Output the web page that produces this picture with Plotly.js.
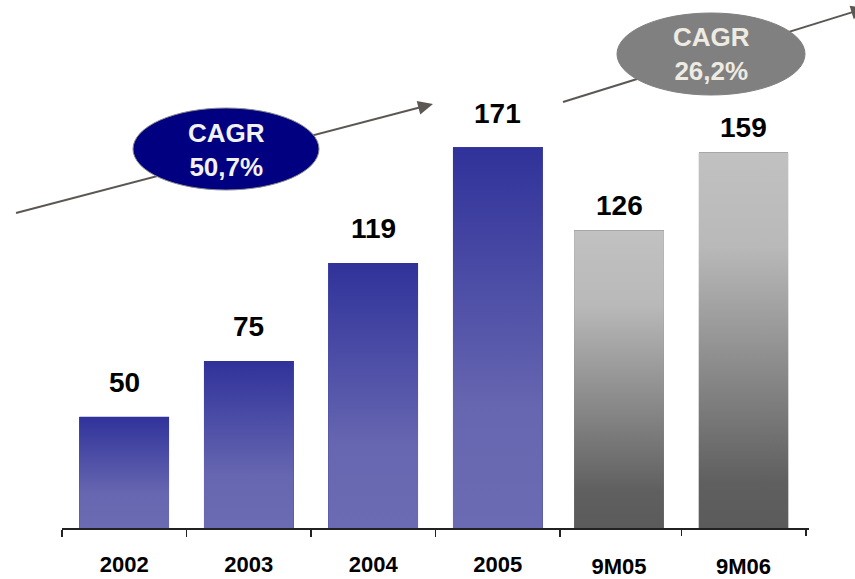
<!DOCTYPE html>
<html>
<head>
<meta charset="utf-8">
<script src="https://cdn.plot.ly/plotly-3.0.1.min.js"></script>
<style>html,body{margin:0;padding:0;background:#fff;}#chart{width:855px;height:579px;}</style>
</head>
<body>
<div id="chart"></div>
<script>
// ---- data ----
const annualCategories = ['2002', '2003', '2004', '2005'];
const annualValues = [50, 75, 119, 171];
const annualLabels = ['50', '75', '119', '171'];
const interimCategories = ['9M05', '9M06'];
const interimValues = [126, 159];
const interimLabels = ['126', '159'];
const cagrLabels = ['CAGR<br>50,7%', 'CAGR<br>26,2%'];

// ---- geometry / style ----
const W = 855, H = 579;
const M = {l: 62, r: 46, t: 0, b: 51};
const plotW = W - M.l - M.r, plotH = H - M.t - M.b;
const halfW = 0.36;
const FONT = 'Liberation Sans, Arial, sans-serif';
const nCat = annualCategories.length + interimCategories.length;

const blueScale = [[0, '#6b6bb3'], [0.3, '#6767b1'], [1, '#30329a']];
const greyScale = [[0, '#5b5b5b'], [0.12, '#5f5f5f'], [0.75, '#b9b9b9'], [1, '#c1c1c1']];

function P(px, py) { return [(px - M.l) / plotW, (H - M.b - py) / plotH]; }

const traces = [];
const annotations = [];

function addGroup(cats, vals, labels, offset, xa, ya, scale, solid, shift) {
  const xs = cats.map((c, i) => offset + i);
  traces.push({
    type: 'bar', x: xs, y: vals, width: 2 * halfW, xaxis: xa, yaxis: ya,
    marker: {color: solid, line: {width: 0}}, hoverinfo: 'skip', showlegend: false
  });
  vals.forEach((v, i) => {
    const x = xs[i];
    traces.push({
      type: 'scatter', mode: 'none', xaxis: xa, yaxis: ya,
      x: [x - halfW, x + halfW, x + halfW, x - halfW, x - halfW],
      y: [0, 0, v, v, 0],
      fill: 'toself',
      fillgradient: {type: 'vertical', colorscale: scale},
      hoverinfo: 'skip', showlegend: false
    });
    annotations.push({
      x: x, y: v, xref: xa, yref: ya, text: labels[i], showarrow: false,
      yanchor: 'middle', yshift: shift,
      font: {family: FONT, size: 28, color: '#000', weight: 'bold'}
    });
  });
}
addGroup(annualCategories, annualValues, annualLabels, 0, 'x', 'y', blueScale, '#4c4ea6', 34);
addGroup(interimCategories, interimValues, interimLabels, annualCategories.length, 'x2', 'y2', greyScale, '#8c8c8c', 25);

function ellipseText(cx, cy, txt, color) {
  const p = P(cx, cy);
  return {x: p[0], y: p[1], xref: 'paper', yref: 'paper', text: txt, showarrow: false,
    xanchor: 'center', yanchor: 'middle',
    font: {family: FONT, size: 26, color: color, weight: 'bold'}};
}
annotations.push(ellipseText(226, 150, '<b>' + cagrLabels[0] + '</b>', '#f2f2f2'));
annotations.push(ellipseText(711, 54, '<b>' + cagrLabels[1] + '</b>', '#eeebe2'));

function lineShape(x0, y0, x1, y1) {
  const a = P(x0, y0), b = P(x1, y1);
  return {type: 'line', xref: 'paper', yref: 'paper', x0: a[0], y0: a[1], x1: b[0], y1: b[1],
    line: {color: '#5c5752', width: 2}, layer: 'above'};
}
function headShape(sx, sy, tx, ty, len, hw) {
  const dx = tx - sx, dy = ty - sy, L = Math.hypot(dx, dy);
  const ux = dx / L, uy = dy / L, bx = tx - len * ux, by = ty - len * uy;
  const pts = [[tx, ty], [bx - hw * uy, by + hw * ux], [bx + hw * uy, by - hw * ux]].map(q => P(q[0], q[1]));
  return {type: 'path', xref: 'paper', yref: 'paper',
    path: 'M' + pts.map(q => q[0] + ',' + q[1]).join(' L') + ' Z',
    fillcolor: '#5c5752', line: {width: 0}, layer: 'above'};
}
function ellipse(cx, cy, rx, ry, fill, border) {
  const a = P(cx - rx, cy + ry), b = P(cx + rx, cy - ry);
  return {type: 'circle', xref: 'paper', yref: 'paper', x0: a[0], y0: a[1], x1: b[0], y1: b[1],
    fillcolor: fill, line: {color: border, width: 1}, layer: 'above'};
}
function arrow(sx, sy, tx, ty) {
  const dx = tx - sx, dy = ty - sy, L = Math.hypot(dx, dy);
  const bx = tx - 14 * dx / L, by = ty - 14 * dy / L;
  return [lineShape(sx, sy, bx, by), headShape(sx, sy, tx, ty, 15, 7)];
}
const shapes = [
  ...arrow(16, 213, 433, 104),
  ...arrow(563, 102, 866, 8),
  ellipse(226, 149, 93, 41, '#000080', '#8a8a8a'),
  ellipse(711, 54, 94, 41, '#808080', '#808080')
];

const tickFont = {family: FONT, size: 22, color: '#000', weight: 'bold'};
const annualIdx = annualCategories.map((c, i) => i);
const interimIdx = interimCategories.map((c, i) => annualCategories.length + i);

const layout = {
  width: W, height: H, margin: M,
  paper_bgcolor: '#fff', plot_bgcolor: '#fff',
  showlegend: false, bargap: 0, barmode: 'overlay',
  xaxis: {
    range: [-0.5, nCat - 0.5], fixedrange: true, zeroline: false, showgrid: false,
    tickmode: 'array', tickvals: annualIdx, ticktext: annualCategories,
    ticks: '', ticklabelstandoff: 16, tickfont: tickFont,
    showline: true, linecolor: '#222', linewidth: 1.5,
    minor: {tickmode: 'array', tickvals: annualIdx.map(i => i - 0.5).concat([annualCategories.length - 0.5]),
      ticks: 'outside', ticklen: 7, tickwidth: 1.5, tickcolor: '#222', showgrid: false}
  },
  xaxis2: {
    overlaying: 'x', anchor: 'y', side: 'bottom',
    range: [-0.474, nCat - 0.474], fixedrange: true, zeroline: false, showgrid: false,
    tickmode: 'array', tickvals: interimIdx, ticktext: interimCategories,
    ticks: '', ticklabelstandoff: 23, tickfont: tickFont, showline: false,
    minor: {tickmode: 'array', tickvals: interimIdx.map(i => i + 0.5),
      ticks: 'outside', ticklen: 7, tickwidth: 1.5, tickcolor: '#222', showgrid: false}
  },
  yaxis: {range: [0, plotH / 2.227], visible: false, fixedrange: true},
  yaxis2: {overlaying: 'y', range: [0, plotH / 2.362], visible: false, fixedrange: true},
  shapes: shapes,
  annotations: annotations
};

Plotly.newPlot('chart', traces, layout, {staticPlot: true, displayModeBar: false});
</script>
</body>
</html>
